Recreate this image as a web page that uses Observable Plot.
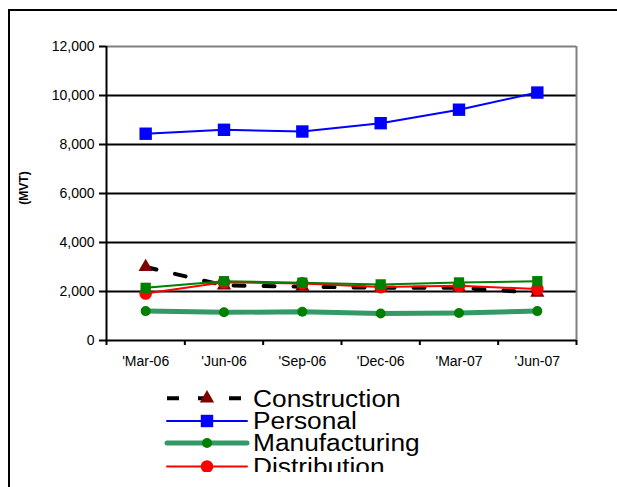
<!DOCTYPE html>
<html><head><meta charset="utf-8">
<script src="https://cdn.jsdelivr.net/npm/d3@7"></script>
<script src="https://cdn.jsdelivr.net/npm/@observablehq/plot@0.6"></script>
<style>
html,body{margin:0;padding:0;background:#fff;overflow:hidden;width:617px;height:487px;}
#wrap{position:relative;width:617px;height:487px;overflow:hidden;font-family:Arial,"Liberation Sans",sans-serif;}
#frame{position:absolute;left:8px;top:9px;width:700px;height:600px;border:2px solid #000;box-sizing:border-box;}
#chart{position:absolute;left:0;top:0;}
#legend{position:absolute;left:0;top:380px;}
</style></head><body>
<div id="wrap"><div id="frame"></div><div id="chart"></div><div id="legend"></div></div>
<script>
// ---- data ----
const months = ["'Mar-06", "'Jun-06", "'Sep-06", "'Dec-06", "'Mar-07", "'Jun-07"];
const yTicks = [0, 2000, 4000, 6000, 8000, 10000, 12000];
const construction = [3000, 2250, 2200, 2150, 2150, 1950];
const personal = [8440, 8600, 8530, 8870, 9420, 10120];
const manufacturing = [1200, 1150, 1170, 1100, 1120, 1200];
const distribution = [1920, 2380, 2330, 2180, 2230, 2100];
const other = [2150, 2420, 2360, 2290, 2370, 2420];
const seriesNames = ["Construction", "Personal", "Manufacturing", "Distribution", "Other"];
const legendNames = ["Construction", "Personal", "Manufacturing", "Distribution"];

// ---- styles ----
const styles = {
  Construction: {line: "#000", lw: 4, dash: "11,19", symbol: "triangle", mfill: "#800000", r: 5.3},
  Personal: {line: "#0000ff", lw: 2, dash: null, symbol: "square", mfill: "#0000ff", r: 7},
  Manufacturing: {line: "#339966", lw: 5, dash: null, symbol: "circle", mfill: "#008000", r: 5},
  Distribution: {line: "#ff0000", lw: 2, dash: null, symbol: "circle", mfill: "#ff0000", r: 6.3},
  Other: {line: "#008000", lw: 2, dash: null, symbol: "square", mfill: "#008000", r: 5.8}
};
const valuesBy = {Construction: construction, Personal: personal, Manufacturing: manufacturing, Distribution: distribution, Other: other};
const rows = name => valuesBy[name].map((v, i) => ({series: name, x: i + 0.5, value: v}));

const font = "Arial, 'Liberation Sans', sans-serif";
const marks = [
  Plot.ruleY(yTicks.filter(t => t > 0 && t < 12000), {stroke: "#000", strokeWidth: 2}),
  Plot.ruleY([12000], {stroke: "#808080", strokeWidth: 2}),
  Plot.ruleX([months.length], {stroke: "#808080", strokeWidth: 2}),
  Plot.ruleY([0], {stroke: "#000", strokeWidth: 2}),
  Plot.ruleX([0], {stroke: "#000", strokeWidth: 2}),
  Plot.axisY({ticks: yTicks, tickFormat: d3.format(","), tickSize: 7, tickPadding: 5, label: null, strokeWidth: 2, fontSize: 14}),
  Plot.axisX({ticks: d3.range(months.length + 1), tickFormat: () => "", tickSize: 5, label: null, strokeWidth: 2}),
  Plot.axisX({ticks: months.map((m, i) => i + 0.5), tickFormat: d => months[Math.floor(d)], tickSize: 0, tickPadding: 16, label: null, fontSize: 14})
];
for (const name of seriesNames) {
  const s = styles[name];
  marks.push(Plot.line(rows(name), {x: "x", y: "value", stroke: s.line, strokeWidth: s.lw, strokeDasharray: s.dash || undefined, strokeLinejoin: "round"}));
  marks.push(Plot.dot(rows(name), {x: "x", y: "value", symbol: s.symbol, r: s.r, fill: s.mfill, stroke: "none"}));
}

const plot = Plot.plot({
  width: 617, height: 380,
  marginLeft: 106, marginRight: 41, marginTop: 46, marginBottom: 40,
  style: {fontFamily: font, fontSize: "14px", color: "#000", background: "transparent", overflow: "visible"},
  x: {type: "linear", domain: [0, months.length]},
  y: {domain: [0, 12000]},
  marks
});
document.getElementById("chart").appendChild(plot);

// y-axis title
d3.select(plot).append("text")
  .attr("transform", "translate(25,188) rotate(-90)")
  .attr("text-anchor", "middle").attr("dominant-baseline", "middle")
  .attr("font-family", font).attr("font-size", 12).attr("font-weight", "bold")
  .text("(MVT)");

// ---- legend ----
const lg = d3.select("#legend").append("svg").attr("width", 617).attr("height", 92)
  .style("display", "block").attr("font-family", font);
const rowY = [18.3, 41, 63, 86.5];
legendNames.forEach((name, k) => {
  const s = styles[name];
  const y = rowY[k];
  const line = lg.append("line").attr("x1", 167).attr("x2", 247).attr("y1", y).attr("y2", y)
    .attr("stroke", s.line).attr("stroke-width", s.lw).attr("stroke-linecap", s.dash ? "butt" : "round");
  if (s.dash) line.attr("stroke-dasharray", "12,19");
  const symMap = {triangle: d3.symbolTriangle, square: d3.symbolSquare, circle: d3.symbolCircle};
  lg.append("path").attr("d", d3.symbol(symMap[s.symbol], Math.PI * s.r * s.r)())
    .attr("transform", `translate(207,${y})`).attr("fill", s.mfill);
  lg.append("text").attr("transform", `translate(253,${y + 8.4}) scale(1.12,1)`)
    .attr("font-size", 23.5).attr("fill", "#000").text(name);
});
</script>
</body></html>
